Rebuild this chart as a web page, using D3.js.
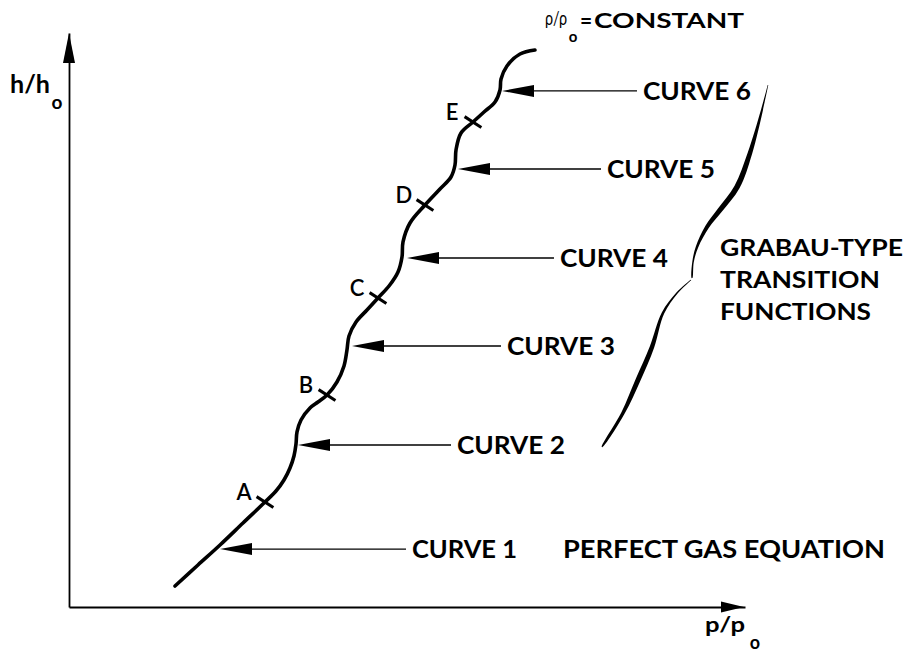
<!DOCTYPE html>
<html>
<head>
  <meta charset="utf-8">
  <title>Grabau-type transition functions</title>
  <script src="https://cdn.jsdelivr.net/npm/d3@7"></script>
  <style>
    body { margin: 0; background: #fff; }
    svg { display: block; }
    text { font-family: Lato, "Open Sans", sans-serif; font-weight: 700; fill: #000; }
  </style>
</head>
<body>
  <svg id="chart" width="906" height="658">
    <g id="axisGroup"></g>
    <g id="curveGroup"></g>
    <g id="labelGroup"></g>
  </svg>

  <script>
    // data: p/p0 along x, h/h0 along y (schematic units, 0 to 10)
    const curveP = [1.568, 1.908, 2.234, 2.574, 2.899, 3.062, 3.180, 3.269, 3.328, 3.358,
      3.373, 3.432, 3.565, 3.683, 3.817, 3.964, 4.068, 4.112, 4.142, 4.246,
      4.408, 4.571, 4.734, 4.867, 4.926, 4.941, 5.044, 5.266, 5.488, 5.651,
      5.710, 5.725, 5.799, 5.976, 6.139, 6.302, 6.376, 6.391, 6.479, 6.672, 6.893];
    const curveH = [0.366, 0.732, 1.080, 1.463, 1.829, 2.021, 2.213, 2.422, 2.631, 2.840,
      3.049, 3.258, 3.467, 3.571, 3.693, 3.920, 4.199, 4.477, 4.721, 4.965,
      5.174, 5.383, 5.592, 5.836, 6.098, 6.359, 6.690, 7.003, 7.282, 7.491,
      7.700, 7.962, 8.258, 8.449, 8.624, 8.798, 9.007, 9.199, 9.425, 9.634, 9.704];

    const markerNames = ["A", "B", "C", "D", "E"];
    const markerIndex = [4, 14, 21, 27, 33];

    const curveNames = ["CURVE 1", "CURVE 2", "CURVE 3", "CURVE 4", "CURVE 5", "CURVE 6"];
    const arrowTipP = [2.234, 3.388, 4.186, 5.000, 5.754, 6.405];
    const arrowTipH = [1.010, 2.822, 4.547, 6.080, 7.631, 8.990];
    const labelP = [5.074, 5.740, 6.479, 7.263, 7.959, 8.491];

    // the bracket beside the text (two strokes)
    const grabauUpperP = [10.340, 10.251, 10.074, 9.882, 9.630, 9.438, 9.290, 9.231, 9.216];
    const grabauUpperH = [9.094, 8.659, 7.909, 7.317, 6.916, 6.620, 6.272, 6.010, 5.732];
    const grabauLowerP = [9.201, 8.994, 8.787, 8.624, 8.417, 8.195, 7.885];
    const grabauLowerH = [5.697, 5.470, 5.122, 4.530, 3.955, 3.380, 2.787];

    // elements
    const chart = d3.select("#chart");
    const axisGroup = d3.select("#axisGroup");
    const curveGroup = d3.select("#curveGroup");
    const labelGroup = d3.select("#labelGroup");

    const x = d3.scaleLinear().domain([0, 10]).range([69, 745]);
    const y = d3.scaleLinear().domain([0, 10]).range([607, 33]);

    // axes (no ticks, arrow heads on the ends)
    axisGroup.append("g")
      .attr("transform", "translate(0," + y(0) + ")")
      .call(d3.axisBottom(x).tickValues([]).tickSizeOuter(0))
      .select(".domain").attr("stroke-width", 1.8);
    axisGroup.append("g")
      .attr("transform", "translate(" + x(0) + ",0)")
      .call(d3.axisLeft(y).tickValues([]).tickSizeOuter(0))
      .select(".domain").attr("stroke-width", 1.8);

    axisGroup.append("path")
      .attr("d", "M" + (x(10) - 1) + "," + y(0) + "l-23,-5.5v11z");
    axisGroup.append("path")
      .attr("d", "M" + x(0) + "," + y(10) + "l-6,30h12z");

    // main curve
    const pts = curveP.map(function(p, i) { return [p, curveH[i]]; });
    const line = d3.line()
      .x(function(d) { return x(d[0]); })
      .y(function(d) { return y(d[1]); })
      .curve(d3.curveCatmullRom.alpha(0.5));

    curveGroup.append("path")
      .attr("d", line(pts))
      .attr("fill", "none")
      .attr("stroke", "#000")
      .attr("stroke-width", 3.6)
      .attr("stroke-linecap", "round");

    // tick marks + letters
    const tickDx = 8.4, tickDy = 5.4;
    markerIndex.forEach(function(idx, i) {
      const cx = x(curveP[idx]), cy = y(curveH[idx]);
      curveGroup.append("line")
        .attr("x1", cx - tickDx).attr("y1", cy - tickDy)
        .attr("x2", cx + tickDx).attr("y2", cy + tickDy)
        .attr("stroke", "#000")
        .attr("stroke-width", 3);
      labelGroup.append("text")
        .attr("x", cx - 21)
        .attr("y", cy - 10 + 8)
        .attr("text-anchor", "middle")
        .style("font-size", "22px")
        .style("font-weight", 600)
        .text(markerNames[i]);
    });

    // arrows to each curve
    curveNames.forEach(function(name, i) {
      const tx = x(arrowTipP[i]), ty = y(arrowTipH[i]), lx = x(labelP[i]);
      curveGroup.append("line")
        .attr("x1", tx + 10).attr("y1", ty)
        .attr("x2", lx - 6).attr("y2", ty)
        .attr("stroke", "#000")
        .attr("stroke-width", 1.3);
      curveGroup.append("path")
        .attr("d", "M" + tx + "," + ty + "l32,-6v12z");
      labelGroup.append("text")
        .attr("x", lx)
        .attr("y", ty + 9)
        .attr("textLength", name === "CURVE 1" ? 105 : 108)
        .attr("lengthAdjust", "spacingAndGlyphs")
        .style("font-size", "25px")
        .text(name);
    });

    // variable width stroke for the bracket
    function ribbon(p, h, widths) {
      const px = p.map(function(d, i) { return [x(d), y(h[i])]; });
      const left = [], right = [];
      px.forEach(function(q, i) {
        const a = px[Math.max(i - 1, 0)], b = px[Math.min(i + 1, px.length - 1)];
        const dx = b[0] - a[0], dy = b[1] - a[1], len = Math.hypot(dx, dy);
        const nx = -dy / len, ny = dx / len, w = widths[i] / 2;
        left.push([q[0] + nx * w, q[1] + ny * w]);
        right.push([q[0] - nx * w, q[1] - ny * w]);
      });
      return d3.line().curve(d3.curveCatmullRom)(left.concat(right.reverse())) + "Z";
    }
    curveGroup.append("path")
      .attr("d", ribbon(grabauUpperP, grabauUpperH, [0.6, 2, 4.5, 5.5, 5, 4, 2.5, 1.5, 0.8]));
    curveGroup.append("path")
      .attr("d", ribbon(grabauLowerP, grabauLowerH, [0.8, 1.5, 2.6, 4.5, 5, 3.5, 0.8]));

    // text annotations
    labelGroup.append("text")
      .attr("x", 563).attr("y", 558)
      .attr("textLength", 322)
      .attr("lengthAdjust", "spacingAndGlyphs")
      .style("font-size", "25px")
      .text("PERFECT GAS EQUATION");

    [["GRABAU-TYPE", 255.5, 183], ["TRANSITION", 287.5, 160], ["FUNCTIONS", 319.5, 151]]
      .forEach(function(t) {
        labelGroup.append("text")
          .attr("x", 720).attr("y", t[1])
          .attr("textLength", t[2])
          .attr("lengthAdjust", "spacingAndGlyphs")
          .style("font-size", "23.5px")
          .text(t[0]);
      });

    // rho / rho0 = constant, one text with subscript tspan
    const topTitle = labelGroup.append("text")
      .attr("x", 545).attr("y", 25)
      .style("font-size", "20px");
    topTitle.append("tspan")
      .attr("textLength", 22)
      .attr("lengthAdjust", "spacingAndGlyphs")
      .style("font-weight", 400).text("ρ/ρ");
    topTitle.append("tspan").attr("x", 573).attr("y", 42)
      .style("font-size", "15px").attr("text-anchor", "middle").text("o");
    topTitle.append("tspan").attr("x", 580).attr("y", 27.5)
      .style("font-size", "21px").text("=");
    topTitle.append("tspan").attr("x", 594).attr("y", 27.5)
      .attr("textLength", 150)
      .attr("lengthAdjust", "spacingAndGlyphs")
      .style("font-size", "21px").text("CONSTANT");

    // axis titles
    const yTitle = labelGroup.append("text")
      .attr("x", 10).attr("y", 93)
      .style("font-size", "25px");
    yTitle.append("tspan")
      .attr("textLength", 40)
      .attr("lengthAdjust", "spacingAndGlyphs")
      .text("h/h");
    yTitle.append("tspan").attr("x", 57).attr("y", 109)
      .attr("text-anchor", "middle")
      .style("font-size", "19px").text("o");

    const xTitle = labelGroup.append("text")
      .attr("x", 705).attr("y", 632)
      .style("font-size", "21px");
    xTitle.append("tspan")
      .attr("textLength", 40)
      .attr("lengthAdjust", "spacingAndGlyphs")
      .text("p/p");
    xTitle.append("tspan").attr("x", 755).attr("y", 649)
      .attr("text-anchor", "middle")
      .style("font-size", "18px").text("o");
  </script>
</body>
</html>
